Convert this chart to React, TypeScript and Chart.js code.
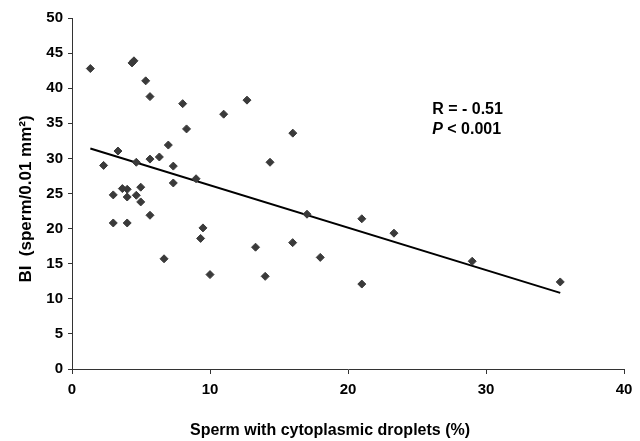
import { useEffect, useRef } from "react";
import { Chart, registerables } from "chart.js";

Chart.register(...registerables);

// Sperm with cytoplasmic droplets (%)
const dropletsPct = [
  1.33, 4.35, 4.49, 5.34, 5.65, 8.02, 12.68, 10.99, 8.3, 16.0,
  3.33, 2.29, 4.66, 5.65, 6.33, 6.98, 7.34, 14.35, 8.99, 7.34,
  2.99, 3.65, 4.0, 4.0, 4.98, 4.66, 4.98, 5.65, 2.99, 4.0,
  6.67, 9.32, 9.49, 10.0, 13.3, 17.03, 21.0, 23.33, 15.99, 17.99,
  14.0, 21.0, 29.0, 35.38,
];
// BI (sperm/0.01 mm²)
const biValues = [
  42.8, 43.6, 43.9, 41.05, 38.8, 37.8, 38.3, 36.3, 34.2, 33.6,
  31.05, 29.0, 29.45, 29.9, 30.2, 31.9, 28.9, 29.45, 27.1, 26.5,
  24.8, 25.7, 25.6, 24.5, 25.9, 24.75, 23.8, 21.9, 20.8, 20.8,
  15.7, 18.6, 20.1, 13.45, 17.35, 22.05, 21.4, 19.35, 18.0, 15.9,
  13.2, 12.1, 15.35, 12.4,
];
// Regression line end points
const fitX = [1.33, 35.38];
const fitY = [31.4, 10.85];

const xTicks = [0, 10, 20, 30, 40];
const yTicks = [0, 5, 10, 15, 20, 25, 30, 35, 40, 45, 50];

const xTitle = "Sperm with cytoplasmic droplets (%)";
const yTitle = "BI  (sperm/0.01 mm\u00B2)";
const statR = "R = - 0.51";
const statP = ["P", " < 0.001"];
const statAnchor = { x: 26.1, y1: 36.3, y2: 33.5 };

const FONT = "'Liberation Sans', Arial, sans-serif";

const textPlugin = {
  id: "texts",
  afterDraw(chart: any) {
    const { ctx, scales } = chart;
    const x = scales.x.getPixelForValue(statAnchor.x);
    const y1 = scales.y.getPixelForValue(statAnchor.y1);
    const y2 = scales.y.getPixelForValue(statAnchor.y2);
    ctx.save();
    ctx.fillStyle = "#000";
    ctx.textAlign = "left";
    ctx.textBaseline = "alphabetic";
    ctx.font = `bold 16px ${FONT}`;
    ctx.fillText(statR, x, y1);
    ctx.font = `italic bold 16px ${FONT}`;
    ctx.fillText(statP[0], x, y2);
    const w = ctx.measureText(statP[0]).width;
    ctx.font = `bold 16px ${FONT}`;
    ctx.fillText(statP[1], x + w, y2);

    // axis titles
    ctx.textAlign = "center";
    ctx.font = `bold 16px ${FONT}`;
    ctx.fillText(xTitle, 330, 435);
    ctx.translate(26, 199);
    ctx.rotate(-Math.PI / 2);
    ctx.textBaseline = "middle";
    ctx.font = `bold 17px ${FONT}`;
    ctx.fillText(yTitle, 0, 0);
    ctx.restore();
  },
};

export default function App() {
  const ref = useRef<HTMLCanvasElement>(null);

  useEffect(() => {
    if (!ref.current) return;
    const axisColor = "#333";
    const chart = new Chart(ref.current, {
      type: "scatter",
      data: {
        datasets: [
          {
            type: "scatter",
            data: dropletsPct.map((x, i) => ({ x, y: biValues[i] })),
            pointStyle: "rectRot",
            pointRadius: 4,
            pointBorderWidth: 1,
            backgroundColor: "#3a3a3a",
            borderColor: "#3a3a3a",
          },
          {
            type: "line",
            data: fitX.map((x, i) => ({ x, y: fitY[i] })),
            borderColor: "#000",
            borderWidth: 2,
            pointRadius: 0,
            fill: false,
          } as any,
        ],
      },
      options: {
        responsive: false,
        animation: false,
        devicePixelRatio: 1,
        layout: { padding: { top: 18, right: 16, left: 0, bottom: 0 } },
        plugins: {
          legend: { display: false },
          tooltip: { enabled: false },
        },
        scales: {
          x: {
            type: "linear",
            min: 0,
            max: 40,
            afterBuildTicks: (s: any) => {
              s.ticks = xTicks.map((v) => ({ value: v }));
            },
            afterFit: (s: any) => {
              s.height = 72;
            },
            grid: {
              drawOnChartArea: false,
              drawTicks: true,
              tickLength: 5,
              color: axisColor,
            },
            border: { color: axisColor, width: 1 },
            ticks: {
              color: "#000",
              padding: 7,
              maxRotation: 0,
              font: { family: FONT, size: 15, weight: "bold" },
            },
            title: { display: false },
          },
          y: {
            type: "linear",
            min: 0,
            max: 50,
            afterBuildTicks: (s: any) => {
              s.ticks = yTicks.map((v) => ({ value: v }));
            },
            afterFit: (s: any) => {
              s.width = 72;
            },
            grid: {
              drawOnChartArea: false,
              drawTicks: true,
              tickLength: 4,
              color: axisColor,
            },
            border: { color: axisColor, width: 1 },
            ticks: {
              color: "#000",
              padding: 5,
              font: { family: FONT, size: 15, weight: "bold" },
            },
            title: { display: false },
          },
        },
      },
      plugins: [textPlugin],
    } as any);
    return () => chart.destroy();
  }, []);

  return (
    <div style={{ position: "fixed", left: 0, top: 0, width: 640, height: 441, background: "#fff" }}>
      <canvas ref={ref} width={640} height={441} style={{ display: "block" }} />
    </div>
  );
}
